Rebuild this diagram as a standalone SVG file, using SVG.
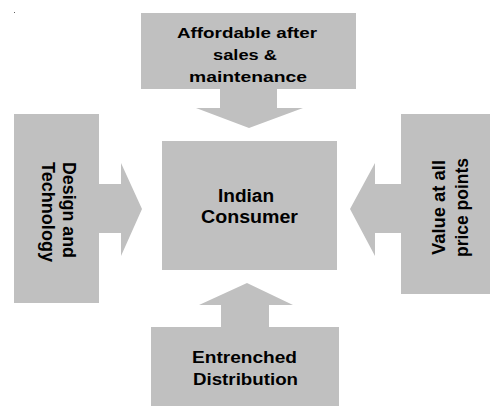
<svg xmlns="http://www.w3.org/2000/svg" width="490" height="407" viewBox="0 0 490 407">
  <style>
    .box { fill: #c0c0c0; }
    .arrow { fill: #c0c0c0; }
    .lbl { font-family: "Liberation Sans", Arial, sans-serif; font-weight: bold; fill: #000; }
    .h { font-size: 15.5px; }
    .c { font-size: 17.5px; }
    .b { font-size: 16px; }
    .v { font-size: 17.5px; text-anchor: middle; }
  </style>
  <rect width="490" height="407" fill="#ffffff"/>
  <rect x="14" y="12" width="1" height="1" fill="#606060"/>

  <!-- block arrows pointing into the centre box -->
  <g id="connectors">
    <polygon class="arrow" points="220,88 277,88 277,108 303,108 249,128 196,108 220,108"/>
    <polygon class="arrow" points="98,184 121,184 121,163 142,209 121,256 121,233 98,233"/>
    <polygon class="arrow" points="402,184 375,184 375,163 350,209 375,256 375,233 402,233"/>
    <polygon class="arrow" points="221,328 221,305 199,305 247,283 293,305 269,305 269,328"/>
  </g>

  <g id="node-aftersales">
    <rect class="box" x="141" y="13" width="215" height="76"/>
    <text class="lbl h" x="177" y="37.5" textLength="140" lengthAdjust="spacingAndGlyphs">Affordable after</text>
    <text class="lbl h" x="213" y="60" textLength="64" lengthAdjust="spacingAndGlyphs">sales &amp;</text>
    <text class="lbl h" x="189" y="82" textLength="118" lengthAdjust="spacingAndGlyphs">maintenance</text>
  </g>

  <g id="node-design">
    <rect class="box" x="14" y="114" width="85" height="189"/>
    <text class="lbl v" transform="translate(63,210) rotate(90)" textLength="96" lengthAdjust="spacingAndGlyphs">Design and</text>
    <text class="lbl v" transform="translate(42,212) rotate(90)" textLength="100" lengthAdjust="spacingAndGlyphs">Technology</text>
  </g>

  <g id="node-value">
    <rect class="box" x="401" y="114" width="89" height="180"/>
    <text class="lbl v" transform="translate(445,207.5) rotate(-90)" textLength="95" lengthAdjust="spacingAndGlyphs">Value at all</text>
    <text class="lbl v" transform="translate(468,207.5) rotate(-90)" textLength="99" lengthAdjust="spacingAndGlyphs">price points</text>
  </g>

  <g id="node-consumer">
    <rect class="box" x="162" y="141" width="175" height="129"/>
    <text class="lbl c" x="218" y="202" textLength="56" lengthAdjust="spacingAndGlyphs">Indian</text>
    <text class="lbl c" x="201" y="223" textLength="97" lengthAdjust="spacingAndGlyphs">Consumer</text>
  </g>

  <g id="node-distribution">
    <rect class="box" x="151" y="327" width="188" height="79"/>
    <text class="lbl b" x="192" y="363" textLength="105" lengthAdjust="spacingAndGlyphs">Entrenched</text>
    <text class="lbl b" x="193" y="385" textLength="105" lengthAdjust="spacingAndGlyphs">Distribution</text>
  </g>
</svg>
